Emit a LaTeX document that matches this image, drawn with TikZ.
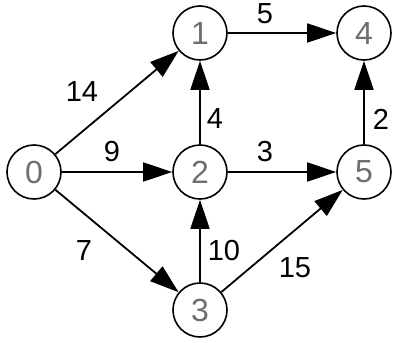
\documentclass[tikz,border=0pt]{standalone}
\usepackage{fontspec}
\setmainfont{Liberation Sans}
\usetikzlibrary{arrows.meta}
\definecolor{numgray}{RGB}{110,110,110}
\begin{document}
\begin{tikzpicture}[x=1pt,y=-1pt,
  vertex/.style={circle,draw=black,line width=1.6pt,minimum size=54pt,inner sep=0pt,
    font=\fontsize{32}{32}\selectfont,text=numgray},
  edge/.style={line width=1.8pt,-{Triangle[length=29pt,width=19pt]}},
  wlabel/.style={font=\fontsize{29}{29}\selectfont,text=black,inner sep=0pt}]
\useasboundingbox (0,0) rectangle (397,343);
\node[vertex] (n0) at (34,172) {0};
\node[vertex] (n1) at (200,33) {1};
\node[vertex] (n4) at (364,33) {4};
\node[vertex] (n2) at (200,172) {2};
\node[vertex] (n5) at (364,172) {5};
\node[vertex] (n3) at (200,310) {3};
\draw[edge] (n0) -- (n1);
\draw[edge] (n0) -- (n2);
\draw[edge] (n0) -- (n3);
\draw[edge] (n1) -- (n4);
\draw[edge] (n2) -- (n1);
\draw[edge] (n2) -- (n5);
\draw[edge] (n5) -- (n4);
\draw[edge] (n3) -- (n2);
\draw[edge] (n3) -- (n5);
\node[wlabel] (l14) at (82,92) {14};
\node[wlabel] (l9) at (112,152) {9};
\node[wlabel] (l7) at (84,251) {7};
\node[wlabel] (l5) at (265,14) {5};
\node[wlabel] (l4) at (215,119) {4};
\node[wlabel] (l3) at (265,152) {3};
\node[wlabel] (l2) at (381,119) {2};
\node[wlabel] (l10) at (224,251) {10};
\node[wlabel] (l15) at (295,268) {15};
\end{tikzpicture}
\end{document}
